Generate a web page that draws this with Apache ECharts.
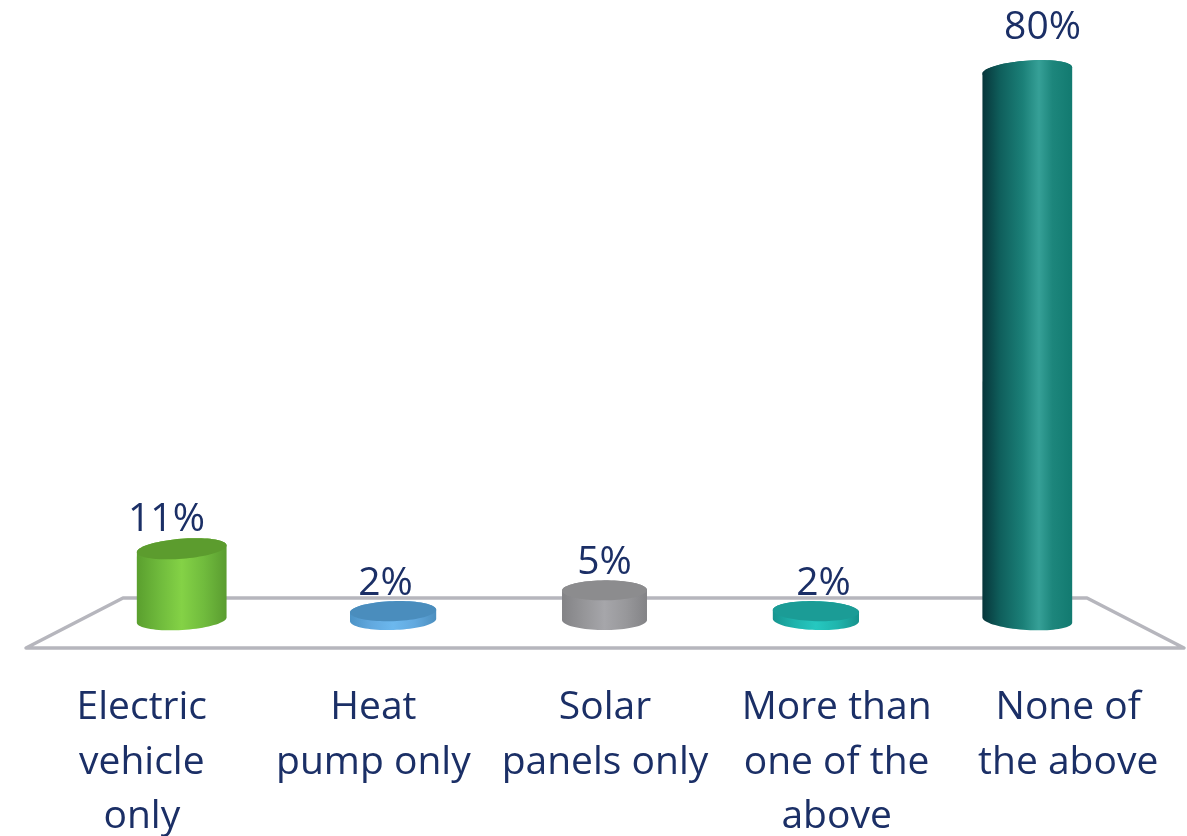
<!DOCTYPE html>
<html>
<head>
<meta charset="utf-8">
<title>Low-carbon technology ownership</title>
<script src="https://cdn.jsdelivr.net/npm/echarts@6/dist/echarts.min.js"></script>
<style>
  html, body { margin: 0; padding: 0; background: #ffffff; }
  #chart { width: 1187px; height: 836px; }
</style>
</head>
<body>
<div id="chart"></div>
<script>
// Survey responses, in percent
const categories = [
  'Electric\nvehicle\nonly',
  'Heat\npump only',
  'Solar\npanels only',
  'More than\none of the\nabove',
  'None of\nthe above'
];
const shares = [11, 2, 5, 2, 80];

// Cylinder shading per category: side gradient stops and cap fill
const sideStops = [
  [[0, '#5a9f2e'], [0.25, '#6fba3c'], [0.5, '#84d246'], [0.75, '#70bb3d'], [1, '#5a9c30']],
  [[0, '#4c93c6'], [0.25, '#62a9df'], [0.5, '#6cb8ee'], [0.75, '#62a9df'], [1, '#4c8fbf']],
  [[0, '#838386'], [0.25, '#959598'], [0.5, '#a6a6aa'], [0.75, '#98989b'], [1, '#838386']],
  [[0, '#17958f'], [0.25, '#1fb3ac'], [0.5, '#26c8c0'], [0.75, '#1fb5ad'], [1, '#17928c']],
  [[0, '#07353a'], [0.2, '#0f5f5c'], [0.45, '#1b8078'], [0.63, '#36a097'], [0.78, '#1d867c'], [1, '#127a70']]
];
const capFills = ['#5c9c2e', '#4a8dbd', '#8c8c8e', '#1b9c96', null];

const FONT = '"Open Sans", sans-serif';
const TEXT_COLOR = '#1b2f66';
const FLOOR_COLOR = '#b6b6bd';

const RY = 10;              // minor radius of the cylinder ellipses
const BASE_LIFT = 5;        // cylinders stand slightly above the axis zero
const VALUE_MAX = 90;

const chart = echarts.init(document.getElementById('chart'), null, { renderer: 'canvas' });

function arc(cx, cy, rx, ry, deg, from, to, n) {
  const r = deg * Math.PI / 180, cos = Math.cos(r), sin = Math.sin(r), pts = [];
  for (let i = 0; i <= n; i++) {
    const t = from + (to - from) * i / n;
    const x = rx * Math.cos(t), y = ry * Math.sin(t);
    pts.push([cx + x * cos - y * sin, cy + x * sin + y * cos]);
  }
  return pts;
}

function renderCylinder(params, api) {
  const i = api.value(0);
  const v = api.value(1);
  const top = api.coord([i, v]);
  const zero = api.coord([i, 0]);
  const base = [zero[0], zero[1] - BASE_LIFT];
  const rect = params.coordSys;
  const mid = rect.x + rect.width / 2;
  const edge = (rect.width * 2) / 5;
  const dx = (base[0] - mid) / edge;
  const rx = api.size([1, 0])[0] * 0.201 + 2.5 * dx * dx;
  const h = zero[1] - top[1];
  const baseTilt = 3.5 * dx;
  const topTilt = baseTilt - h * 0.014;

  const upper = arc(top[0], top[1], rx, RY, topTilt, Math.PI, Math.PI * 2, 40);
  const lower = arc(base[0], base[1], rx, RY, baseTilt, 0, Math.PI, 40);
  const side = new echarts.graphic.LinearGradient(0, 0, 1, 0, sideStops[i].map(function (s) {
    return { offset: s[0], color: s[1] };
  }));
  const capFill = capFills[i] || side;

  const labelX = base[0] + (base[0] - mid) * 0.036;
  const labelBaseline = zero[1] - h * 1.029 - 17;

  return {
    type: 'group',
    children: [
      { type: 'polygon', shape: { points: upper.concat(lower) }, style: { fill: side } },
      {
        type: 'polygon',
        shape: { points: arc(top[0], top[1], rx, RY, topTilt, 0, Math.PI * 2, 80) },
        style: { fill: capFill }
      },
      {
        type: 'text',
        style: {
          text: v + '%',
          x: labelX,
          y: labelBaseline + 10,
          align: 'center',
          verticalAlign: 'bottom',
          font: '39px ' + FONT,
          fill: TEXT_COLOR
        }
      }
    ]
  };
}

// Trapezoidal floor: the front edge spans the lower grid, the back edge is inset
function renderFloor(params, api) {
  const rect = params.coordSys;
  const left = rect.x, right = rect.x + rect.width, front = rect.y + rect.height;
  const back = front - 50;
  return {
    type: 'polygon',
    shape: { points: [[left, front], [left + 97, back], [right - 97, back], [right, front]] },
    style: { fill: 'none', stroke: FLOOR_COLOR, lineWidth: 3.5, lineJoin: 'round' }
  };
}

chart.setOption({
  backgroundColor: '#ffffff',
  animation: false,
  grid: [
    { left: 76, right: 1187 - 1133, top: 1.3, height: 623.7, outerBoundsMode: 'none' },
    { left: 26, right: 3, top: 100, bottom: 836 - 648, outerBoundsMode: 'none' }
  ],
  xAxis: [
    { type: 'category', gridIndex: 0, data: categories, show: false },
    {
      type: 'category',
      gridIndex: 1,
      data: categories,
      axisLine: { show: false },
      axisTick: { show: false },
      axisLabel: {
        interval: 0,
        margin: 33,
        color: TEXT_COLOR,
        fontFamily: FONT,
        fontSize: 39,
        lineHeight: 54.5
      }
    }
  ],
  yAxis: [
    { type: 'value', gridIndex: 0, min: 0, max: VALUE_MAX, interval: 10, show: false },
    { type: 'value', gridIndex: 1, min: 0, max: 1, show: false }
  ],
  series: [
    {
      type: 'custom',
      xAxisIndex: 1,
      yAxisIndex: 1,
      z: 1,
      silent: true,
      renderItem: renderFloor,
      data: [[0, 0]]
    },
    {
      type: 'custom',
      xAxisIndex: 0,
      yAxisIndex: 0,
      z: 2,
      renderItem: renderCylinder,
      encode: { x: 0, y: 1 },
      data: shares.map(function (v, i) { return [i, v]; })
    }
  ]
});
</script>
</body>
</html>
